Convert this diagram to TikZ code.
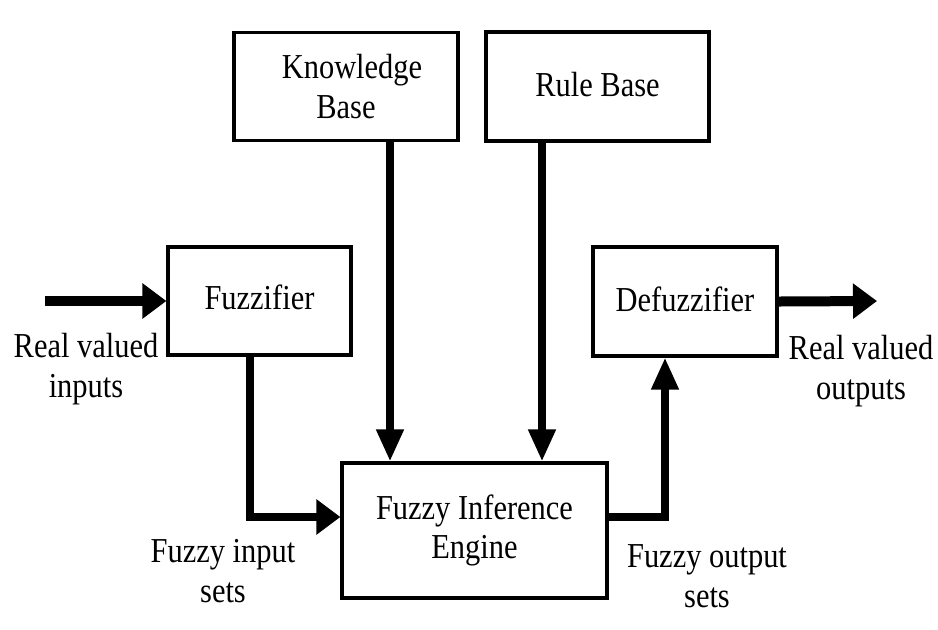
\documentclass[tikz,border=0pt]{standalone}
\usepackage{fontspec}
\setmainfont{Liberation Serif}[FakeStretch=0.87]
\usepackage{tikz}
\usetikzlibrary{arrows.meta,positioning,calc}

\begin{document}
\begin{tikzpicture}[x=0.5pt, y=-0.5pt,
        box/.style={rectangle, draw=black, line width=1.6pt, fill=white,
                    minimum width=#1, align=center, inner sep=0pt},
        lbl/.style={align=center, inner sep=0pt},
        arr/.style={line width=#1, line join=miter},
        arr/.default=3.75pt,
        htip/.style={-{Triangle[length=12pt,width=17pt]}},
        vtip/.style={-{Triangle[length=16pt,width=13pt]}},
        font=\fontsize{17.5pt}{19.75pt}\selectfont,
      ]
      \useasboundingbox (0,0) rectangle (938,629);
      % blocks
      \node[box=112pt, minimum height=54pt] (kb) at (346,86.5)
        {\hspace*{6pt}Knowledge\\Base};
      \node[box=111.5pt, minimum height=54.5pt, text depth=2.5pt] (rb) at (597.5,86.5) {Rule Base};
      \node[box=91.5pt, minimum height=54pt, text depth=4pt] (fuz) at (259.5,301) {Fuzzifier};
      \node[box=92pt, minimum height=54.5pt, text depth=2.5pt] (defuz) at (685,301.5) {Defuzzifier};
      \node[box=132.5pt, minimum height=67.5pt] (fie) at (474.5,530.5)
        {Fuzzy Inference\\Engine};
      % free ends and bends
      \coordinate (inp) at (45,301);
      \coordinate (outp) at (877,301);
      \coordinate (bendin) at (250,517);
      \coordinate (bendout) at (665,517);
      \coordinate (kbx) at (390,0);
      \coordinate (rbx) at (542,0);
      % connectors
      \draw[arr=5pt, htip] (inp) -- (fuz.west);
      \draw[arr, htip] (bendin |- fuz.south) -- (bendin) -- (fie.west |- bendin);
      \draw[arr, vtip] (kbx |- kb.south) -- (kbx |- fie.north);
      \draw[arr, vtip] (rbx |- rb.south) -- (rbx |- fie.north);
      \draw[arr, vtip] (fie.east |- bendout) -- (bendout) -- (bendout |- defuz.south);
      \draw[arr=5pt, htip] (defuz.east) -- (outp);
      % labels
      \node[lbl] (lblin) at (86,369) {Real valued\\inputs};
      \node[lbl] (lblout) at (861,371) {Real valued\\outputs};
      \node[lbl] (lblfin) at (223,571) {Fuzzy input\\sets};
      \node[lbl] (lblfout) at (707,576) {Fuzzy output\\sets};
    \end{tikzpicture}
\end{document}
